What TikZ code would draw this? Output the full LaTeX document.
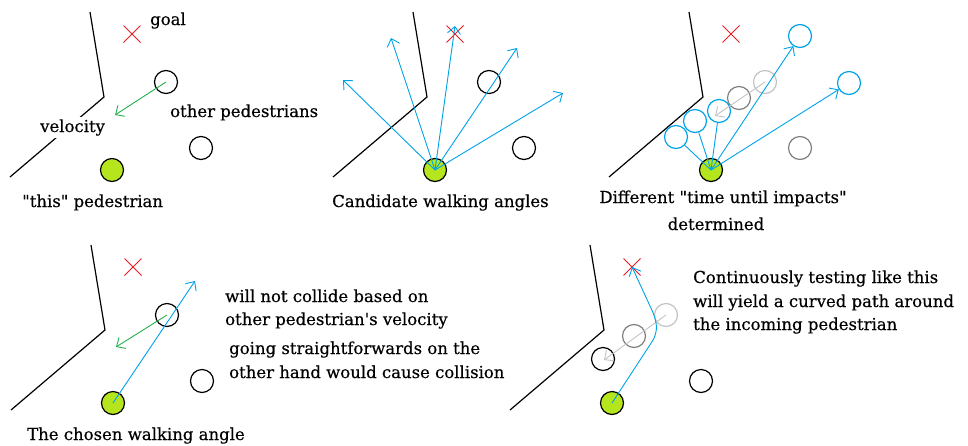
\documentclass[tikz,border=0pt]{standalone}
\usepackage{fontspec}
\setmainfont{DejaVu Serif}[Ligatures=TeXOff, FakeBold=0.4]
\usetikzlibrary{arrows.meta, shapes.misc}
\definecolor{cblue}{HTML}{00A2E8}
\definecolor{vgreen}{HTML}{22B14C}
\definecolor{xred}{HTML}{ED1C24}
\definecolor{pedfill}{HTML}{B5E61D}
\definecolor{midgrey}{HTML}{7F7F7F}
\definecolor{lightgrey}{HTML}{C3C3C3}

\begin{document}
\begin{tikzpicture}[x=1pt, y=-1pt, >={Straight Barb[length=7pt,width=13pt]},
    ped/.style={circle, draw, line width=1.2pt, minimum size=23pt, inner sep=0pt},
    me/.style={ped, fill=pedfill},
    goalx/.style={cross out, draw=xred, line width=1pt, minimum size=16pt, inner sep=0pt},
    wall/.style={line width=1.2pt},
    vel/.style={->, vgreen, line width=0.9pt},
    cand/.style={->, cblue, line width=0.9pt},
    shadow/.style={->, lightgrey, line width=0.9pt},
    txt/.style={font=\fontsize{16.5}{20}\selectfont, inner sep=0pt, anchor=base west}]
  \useasboundingbox (0,0) rectangle (968,445);

  % what every panel has: wall, goal, this pedestrian, the other one below
  \foreach \p/\dx/\dy/\col in {1/0/0/black, 2/323/0/black, 3/599/0/midgrey, 4/1/233/black, 5/500/233/black}{
    \begin{scope}[shift={(\dx,\dy)}]
      \draw[wall] (90,12) -- (104,97) -- (10,177);
      \node[goalx] (g\p) at (132,34) {};
      \node[ped, draw=\col] (b\p) at (201,148) {};
      \node[me] (me\p) at (112,170) {};
    \end{scope}
  }

  % panel 1
  \node[ped] (a1) at (166,82) {};
  \coordinate (v1) at (115,115);
  \draw[vel] (a1.center) -- (v1);
  \node[txt] (goal) at (150,25) {goal};
  \node[txt] (others) at (170,117) {other pedestrians};
  \node[txt, fill=white, inner sep=2pt] (vlabel) at (38,132) {velocity};
  \node[txt] (this) at (22,207) {"this" pedestrian};

  % panel 2
  \begin{scope}[shift={(323,0)}]
    \node[ped] (a2) at (166,82) {};
    \foreach \i/\cx/\cy in {1/20/80, 2/68/38, 3/132/26, 4/194/48, 5/240/93}{
      \coordinate (c\i) at (\cx,\cy);
      \draw[cand] (me2.center) -- (c\i);
    }
    \node[txt] (cap2) at (9,207) {Candidate walking angles};
  \end{scope}

  % panel 3
  \begin{scope}[shift={(599,0)}]
    \node[ped, draw=lightgrey] (a3) at (166,82) {};
    \node[ped, draw=midgrey] (d3) at (140,98) {};
    \foreach \i/\cx/\cy in {1/77/137, 2/96/121, 3/120/111, 4/201/36, 5/250/83}{
      \node[ped, draw=cblue] (t\i) at (\cx,\cy) {};
    }
    \coordinate (w3) at (116,116);
    \draw[shadow] (a3.center) -- (w3);
    \foreach \i in {1,2,3}{
      \draw[cblue, line width=0.9pt] (me3.center) -- (t\i);
    }
    \draw[cand] (me3.center) -- (t4);
    \draw[cand] (me3.center) -- (t5);
    \node[txt, anchor=base] (cap3a) at (124,203) {Different "time until impacts"};
    \node[txt, anchor=base] (cap3b) at (117,230) {determined};
  \end{scope}

  % panel 4
  \begin{scope}[shift={(1,233)}]
    \node[ped] (a4) at (166,82) {};
    \coordinate (v4) at (115,114);
    \coordinate (c4) at (194,48);
    \draw[vel] (a4.center) -- (v4);
    \draw[cand] (me4.center) -- (c4);
    \node[txt] (note4a) at (224,69) {will not collide based on};
    \node[txt] (note4b) at (224,92) {other pedestrian's velocity};
    \node[txt] (note4c) at (228,121) {going straightforwards on the};
    \node[txt] (note4d) at (228,145) {other hand would cause collision};
    \node[txt] (cap4) at (26,207) {The chosen walking angle};
  \end{scope}

  % panel 5
  \begin{scope}[shift={(500,233)}]
    \node[ped, draw=lightgrey] (a5) at (166,82) {};
    \node[ped, draw=midgrey] (d5) at (134,103) {};
    \node[ped] (k5) at (103,126) {};
    \coordinate (w5) at (104,127);
    \draw[shadow] (a5.center) -- (w5);
    \coordinate (q1) at (157,101);
    \coordinate (q2) at (156,86);
    \draw[cand, rounded corners=8pt] (me5.center) -- (q1) -- (q2) -- (g5.center);
    \node[txt] (note5a) at (193,50) {Continuously testing like this};
    \node[txt] (note5b) at (193,74) {will yield a curved path around};
    \node[txt] (note5c) at (193,97) {the incoming pedestrian};
  \end{scope}
\end{tikzpicture}
\end{document}
